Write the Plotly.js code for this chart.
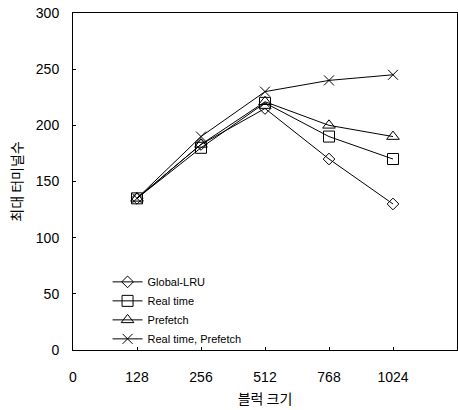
<!DOCTYPE html>
<html><head><meta charset="utf-8">
<script src="https://cdn.plot.ly/plotly-3.0.1.min.js"></script>
<style>body{margin:0;background:#fff}#c{width:458px;height:410px}</style>
</head><body><div id="c"></div>
<script>
var tickLabels = ["0","128","256","512","768","1024",""];
var blockIdx = [1,2,3,4,5];
var globalLRU = [135,183,215,170,130];
var realTime = [135,180,220,190,170];
var prefetch = [135,183,221,200,190];
var realTimePrefetch = [135,190,230,240,245];
var names = ["Global-LRU","Real time","Prefetch","Real time, Prefetch"];
var symbols = ["diamond-open","square-open","triangle-up-open","x-thin-open"];
var sizes = [9,11,11,10];
var series = [globalLRU, realTime, prefetch, realTimePrefetch];
var traces = series.map(function(s,i){
  return {x:blockIdx, y:s, name:names[i], type:'scatter', mode:'lines+markers',
    line:{color:'#000',width:1},
    marker:{symbol:symbols[i], size:sizes[i], color:'#000', line:{color:'#000',width:1}}};
});
var layout = {
  width:458, height:410, margin:{l:73,r:1,t:13,b:60},
  paper_bgcolor:'#fff', plot_bgcolor:'#fff',
  font:{family:'"Liberation Sans", Arial, sans-serif', size:14, color:'#000'},
  showlegend:true,
  legend:{x:0.09, y:-0.01, xanchor:'left', yanchor:'bottom', bgcolor:'rgba(0,0,0,0)',
    font:{size:11}, tracegroupgap:0, itemwidth:30},
  xaxis:{range:[0,6], tickmode:'array', tickvals:[0,1,2,3,4,5,6], ticktext:tickLabels,
    showgrid:false, zeroline:false, showline:true, linecolor:'#000', linewidth:1, mirror:true,
    ticks:'inside', ticklen:3, tickcolor:'#000', ticklabelstandoff:14,
    title:{text:'블럭 크기', font:{family:'"Noto Sans CJK KR", sans-serif', size:14}, standoff:10}},
  yaxis:{range:[0,300], tickvals:[0,50,100,150,200,250,300],
    showgrid:false, zeroline:false, showline:true, linecolor:'#000', linewidth:1, mirror:true,
    ticks:'inside', ticklen:3, tickcolor:'#000', ticklabelstandoff:10,
    title:{text:'최대 터미널수', font:{family:'"Noto Sans CJK KR", sans-serif', size:14}, standoff:9}}
};
Plotly.newPlot('c', traces, layout, {displayModeBar:false, staticPlot:true});
</script></body></html>
